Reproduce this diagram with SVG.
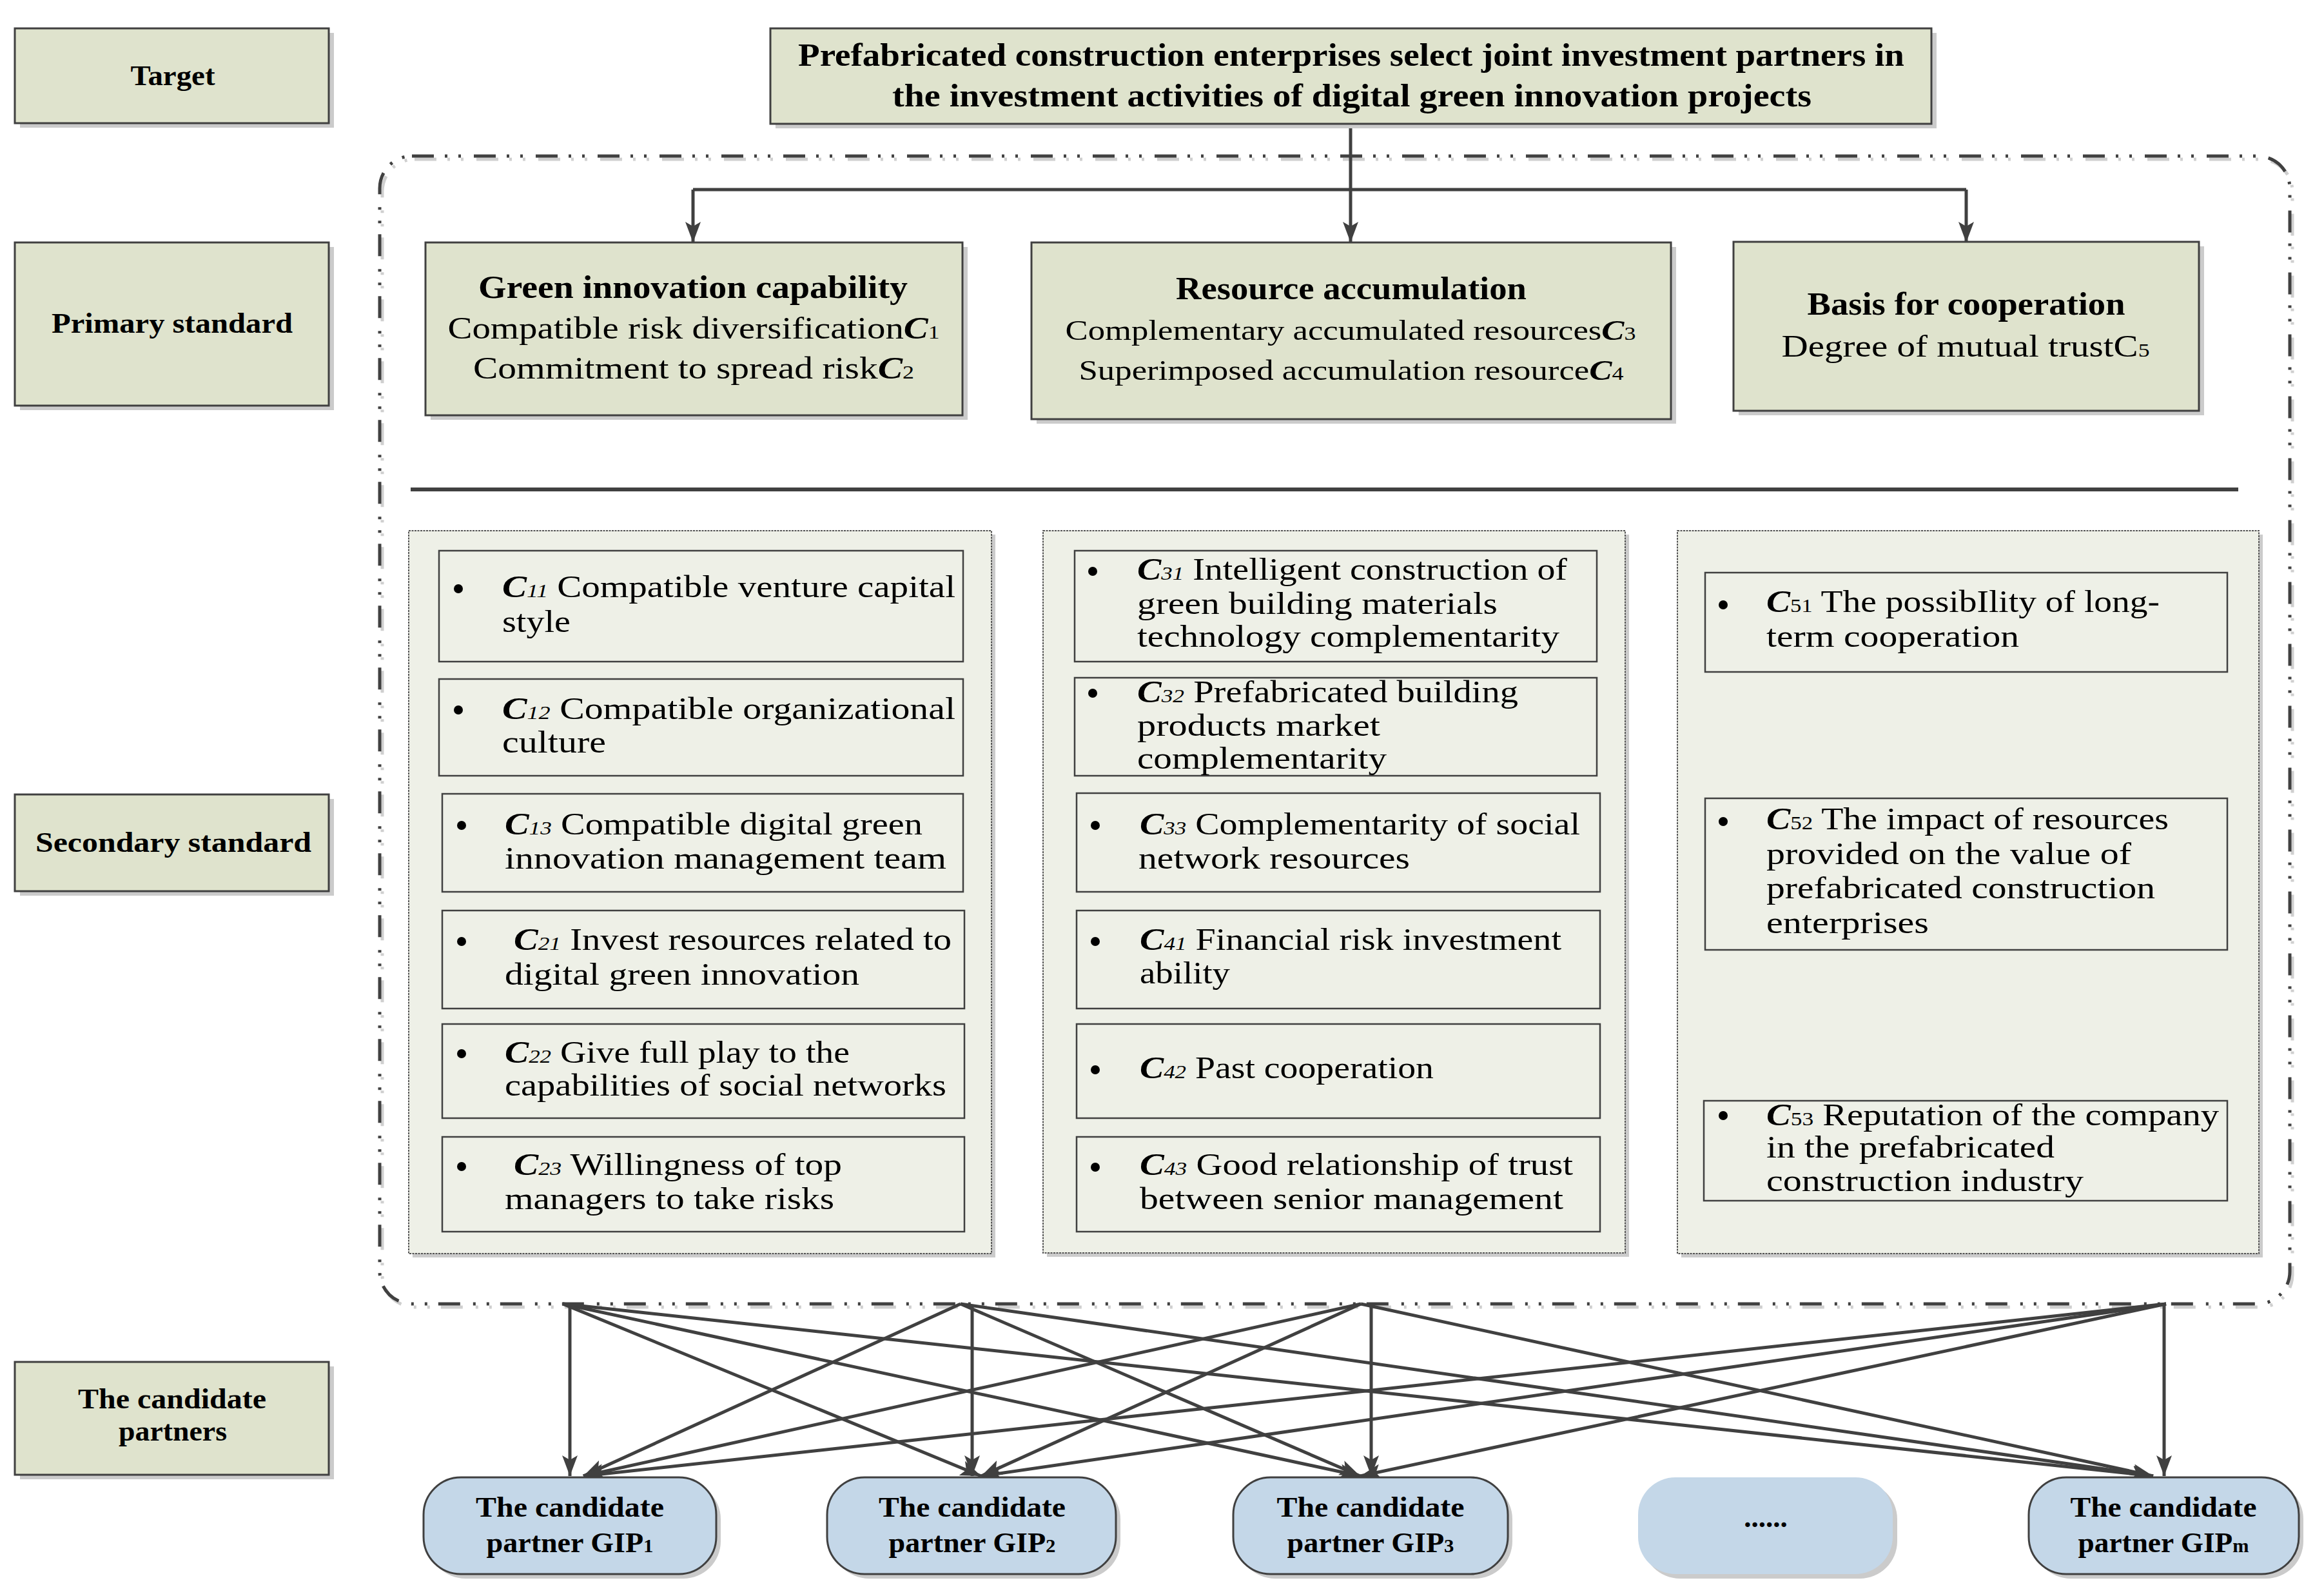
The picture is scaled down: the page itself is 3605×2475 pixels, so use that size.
<svg xmlns="http://www.w3.org/2000/svg" width="3605" height="2475" viewBox="0 0 3605 2475">
<defs>
<style>
.lbl{fill:#dfe3cd;stroke:#404040;stroke-width:3}
.sh{fill:#cbcbcb}
.panel{fill:#eef0e7;stroke:#555;stroke-width:2;stroke-dasharray:3 1.5}
.inner{fill:none;stroke:#404040;stroke-width:2.5}
.node{fill:#c4d7e8;stroke:#404040;stroke-width:3}
.conn{stroke:#404040;fill:none;stroke-width:5}
.bc{stroke:#404040;fill:none;stroke-width:5}
text{font-family:"Liberation Serif",serif;fill:#000}
.b{font-weight:bold}
.m{text-anchor:middle}
.ci{font-style:italic;font-weight:bold}
.s{font-size:30px}
.si{font-size:30px;font-style:italic}
.t45{font-size:45px}
.t50{font-size:50px}
.t48{font-size:48px}
.t44{font-size:44px}
.bul{fill:#000}
</style>
<marker id="ah" viewBox="0 0 32 24" refX="32" refY="12" markerWidth="32" markerHeight="24" markerUnits="userSpaceOnUse" orient="auto">
<path d="M0,0 L32,12 L0,24 L7,12 z" fill="#404040"/>
</marker>
</defs>
<rect width="3605" height="2475" fill="#fff"/>

<!-- dashed container -->
<g id="container">
<rect x="593" y="247" width="2963" height="1780" rx="50" fill="none" stroke="#cfcfcf" stroke-width="5" stroke-dasharray="34 17 4 17 4 20"/>
<rect x="589" y="242" width="2963" height="1780" rx="50" fill="none" stroke="#404040" stroke-width="5" stroke-dasharray="34 17 4 17 4 20"/>
</g>

<!-- left labels -->
<g id="label-target">
<rect class="sh" x="31" y="51" width="487" height="147"/>
<rect class="lbl" x="23" y="44" width="487" height="147"/>
<text class="b m t45" x="268" y="132" textLength="131" lengthAdjust="spacingAndGlyphs">Target</text>
</g>
<g id="label-primary">
<rect class="sh" x="31" y="383" width="487" height="253"/>
<rect class="lbl" x="23" y="376" width="487" height="253"/>
<text class="b m t45" x="267" y="516" textLength="374" lengthAdjust="spacingAndGlyphs">Primary standard</text>
</g>
<g id="label-secondary">
<rect class="sh" x="31" y="1239" width="487" height="150"/>
<rect class="lbl" x="23" y="1232" width="487" height="150"/>
<text class="b m t45" x="269" y="1321" textLength="428" lengthAdjust="spacingAndGlyphs">Secondary standard</text>
</g>
<g id="label-candidates">
<rect class="sh" x="31" y="2119" width="487" height="175"/>
<rect class="lbl" x="23" y="2112" width="487" height="175"/>
<text class="b m t45" x="267" y="2184" textLength="292" lengthAdjust="spacingAndGlyphs">The candidate</text>
<text class="b m t45" x="268" y="2234" textLength="168" lengthAdjust="spacingAndGlyphs">partners</text>
</g>

<!-- connectors -->
<g id="connectors">
<path class="conn" d="M2095,192 L2095,376" marker-end="url(#ah)"/>
<path class="conn" d="M1075,294 L3050,294"/>
<path class="conn" d="M1075,294 L1075,376" marker-end="url(#ah)"/>
<path class="conn" d="M3050,294 L3050,376" marker-end="url(#ah)"/>
<path d="M637,759 L3472,759" stroke="#404040" stroke-width="6"/>
<!-- bottom -->
<path class="bc" d="M884,2024 L884,2289" marker-end="url(#ah)"/>
<path class="bc" d="M873,2022 L1522,2289" marker-end="url(#ah)"/>
<path class="bc" d="M873,2022 L2110,2289" marker-end="url(#ah)"/>
<path class="bc" d="M873,2022 L3340,2289" marker-end="url(#ah)"/>
<path class="bc" d="M1508,2024 L1508,2289" marker-end="url(#ah)"/>
<path class="bc" d="M1490,2022 L905,2289" marker-end="url(#ah)"/>
<path class="bc" d="M1490,2022 L2110,2289" marker-end="url(#ah)"/>
<path class="bc" d="M1490,2022 L3340,2289" marker-end="url(#ah)"/>
<path class="bc" d="M2127,2024 L2127,2289" marker-end="url(#ah)"/>
<path class="bc" d="M2111,2022 L905,2289" marker-end="url(#ah)"/>
<path class="bc" d="M2111,2022 L1522,2289" marker-end="url(#ah)"/>
<path class="bc" d="M2111,2022 L3340,2289" marker-end="url(#ah)"/>
<path class="bc" d="M3357,2024 L3357,2289" marker-end="url(#ah)"/>
<path class="bc" d="M3360,2022 L905,2289" marker-end="url(#ah)"/>
<path class="bc" d="M3360,2022 L1522,2289" marker-end="url(#ah)"/>
<path class="bc" d="M3360,2022 L2110,2289" marker-end="url(#ah)"/>
</g>

<!-- target -->
<g id="target">
<rect class="sh" x="1203" y="51" width="1801" height="148"/>
<rect class="lbl" x="1195" y="44" width="1801" height="148"/>
<text class="b m t50" x="2096" y="102" textLength="1716" lengthAdjust="spacingAndGlyphs">Prefabricated construction enterprises select joint investment partners in</text>
<text class="b m t50" x="2097" y="165" textLength="1426" lengthAdjust="spacingAndGlyphs">the investment activities of digital green innovation projects</text>
</g>

<!-- primary -->
<g id="green-innovation">
<rect class="sh" x="668" y="383" width="833" height="268"/>
<rect class="lbl" x="660" y="376" width="833" height="268"/>
<text class="b m t50" x="1075" y="462" textLength="666" lengthAdjust="spacingAndGlyphs">Green innovation capability</text>
<text class="m t48" x="1076" y="525" textLength="763" lengthAdjust="spacingAndGlyphs">Compatible risk diversification<tspan class="ci">C</tspan><tspan class="s">1</tspan></text>
<text class="m t48" x="1076" y="587" textLength="684" lengthAdjust="spacingAndGlyphs">Commitment to spread risk<tspan class="ci">C</tspan><tspan class="s">2</tspan></text>
</g>
<g id="resource-accumulation">
<rect class="sh" x="1608" y="383" width="992" height="274"/>
<rect class="lbl" x="1600" y="376" width="992" height="274"/>
<text class="b m t50" x="2096" y="464" textLength="544" lengthAdjust="spacingAndGlyphs">Resource accumulation</text>
<text class="m t44" x="2095" y="527" textLength="885" lengthAdjust="spacingAndGlyphs">Complementary accumulated resources<tspan class="ci">C</tspan><tspan class="s">3</tspan></text>
<text class="m t44" x="2096" y="589" textLength="845" lengthAdjust="spacingAndGlyphs">Superimposed accumulation resource<tspan class="ci">C</tspan><tspan class="s">4</tspan></text>
</g>
<g id="basis-cooperation">
<rect class="sh" x="2697" y="382" width="722" height="262"/>
<rect class="lbl" x="2689" y="375" width="722" height="262"/>
<text class="b m t50" x="3050" y="488" textLength="493" lengthAdjust="spacingAndGlyphs">Basis for cooperation</text>
<text class="m t48" x="3049" y="553" textLength="571" lengthAdjust="spacingAndGlyphs">Degree of mutual trust<tspan>C</tspan><tspan class="s">5</tspan></text>
</g>

<!-- secondary panel 1 -->
<g id="panel-1">
<rect class="sh" x="640" y="829" width="904" height="1121"/>
<rect class="panel" x="634" y="823" width="904" height="1121"/>
<rect class="inner" x="681" y="854" width="813" height="172"/>
<rect class="inner" x="681" y="1053" width="813" height="150"/>
<rect class="inner" x="686" y="1231" width="808" height="152"/>
<rect class="inner" x="686" y="1412" width="810" height="152"/>
<rect class="inner" x="686" y="1588" width="810" height="146"/>
<rect class="inner" x="686" y="1763" width="810" height="147"/>
<circle class="bul" cx="711" cy="913" r="7"/>
<circle class="bul" cx="711" cy="1101" r="7"/>
<circle class="bul" cx="716" cy="1280" r="7"/>
<circle class="bul" cx="716" cy="1460" r="7"/>
<circle class="bul" cx="716" cy="1634" r="7"/>
<circle class="bul" cx="716" cy="1809" r="7"/>
<text class="t48" x="779" y="926" textLength="703" lengthAdjust="spacingAndGlyphs"><tspan class="ci">C</tspan><tspan class="si">11</tspan> Compatible venture capital</text>
<text class="t48" x="779" y="980" textLength="106" lengthAdjust="spacingAndGlyphs">style</text>
<text class="t48" x="779" y="1115" textLength="703" lengthAdjust="spacingAndGlyphs"><tspan class="ci">C</tspan><tspan class="si">12</tspan>  Compatible organizational</text>
<text class="t48" x="779" y="1167" textLength="161" lengthAdjust="spacingAndGlyphs">culture</text>
<text class="t48" x="783" y="1294" textLength="648" lengthAdjust="spacingAndGlyphs"><tspan class="ci">C</tspan><tspan class="si">13</tspan> Compatible digital green</text>
<text class="t48" x="783" y="1347" textLength="685" lengthAdjust="spacingAndGlyphs">innovation management team</text>
<text class="t48" x="797" y="1473" textLength="679" lengthAdjust="spacingAndGlyphs"><tspan class="ci">C</tspan><tspan class="si">21</tspan> Invest resources related to</text>
<text class="t48" x="783" y="1527" textLength="550" lengthAdjust="spacingAndGlyphs">digital green innovation</text>
<text class="t48" x="783" y="1648" textLength="535" lengthAdjust="spacingAndGlyphs"><tspan class="ci">C</tspan><tspan class="si">22</tspan> Give full play to the</text>
<text class="t48" x="783" y="1699" textLength="685" lengthAdjust="spacingAndGlyphs">capabilities of social networks</text>
<text class="t48" x="797" y="1822" textLength="509" lengthAdjust="spacingAndGlyphs"><tspan class="ci">C</tspan><tspan class="si">23</tspan>  Willingness of top</text>
<text class="t48" x="783" y="1875" textLength="511" lengthAdjust="spacingAndGlyphs">managers to take risks</text>
</g>

<!-- secondary panel 2 -->
<g id="panel-2">
<rect class="sh" x="1624" y="829" width="903" height="1120"/>
<rect class="panel" x="1618" y="823" width="903" height="1120"/>
<rect class="inner" x="1667" y="854" width="810" height="172"/>
<rect class="inner" x="1667" y="1051" width="810" height="152"/>
<rect class="inner" x="1670" y="1230" width="812" height="153"/>
<rect class="inner" x="1670" y="1412" width="812" height="152"/>
<rect class="inner" x="1670" y="1588" width="812" height="146"/>
<rect class="inner" x="1670" y="1763" width="812" height="147"/>
<circle class="bul" cx="1695" cy="886" r="7"/>
<circle class="bul" cx="1695" cy="1075" r="7"/>
<circle class="bul" cx="1699" cy="1280" r="7"/>
<circle class="bul" cx="1699" cy="1460" r="7"/>
<circle class="bul" cx="1699" cy="1659" r="7"/>
<circle class="bul" cx="1699" cy="1810" r="7"/>
<text class="t48" x="1764" y="899" textLength="667" lengthAdjust="spacingAndGlyphs"><tspan class="ci">C</tspan><tspan class="si">31</tspan> Intelligent construction of</text>
<text class="t48" x="1764" y="952" textLength="559" lengthAdjust="spacingAndGlyphs">green building materials</text>
<text class="t48" x="1764" y="1003" textLength="655" lengthAdjust="spacingAndGlyphs">technology complementarity</text>
<text class="t48" x="1764" y="1089" textLength="591" lengthAdjust="spacingAndGlyphs"><tspan class="ci">C</tspan><tspan class="si">32</tspan> Prefabricated building</text>
<text class="t48" x="1764" y="1141" textLength="377" lengthAdjust="spacingAndGlyphs">products market</text>
<text class="t48" x="1764" y="1192" textLength="387" lengthAdjust="spacingAndGlyphs">complementarity</text>
<text class="t48" x="1768" y="1294" textLength="683" lengthAdjust="spacingAndGlyphs"><tspan class="ci">C</tspan><tspan class="si">33</tspan> Complementarity of social</text>
<text class="t48" x="1766" y="1347" textLength="421" lengthAdjust="spacingAndGlyphs">network resources</text>
<text class="t48" x="1768" y="1473" textLength="654" lengthAdjust="spacingAndGlyphs"><tspan class="ci">C</tspan><tspan class="si">41</tspan> Financial risk investment</text>
<text class="t48" x="1768" y="1525" textLength="140" lengthAdjust="spacingAndGlyphs">ability</text>
<text class="t48" x="1768" y="1672" textLength="456" lengthAdjust="spacingAndGlyphs"><tspan class="ci">C</tspan><tspan class="si">42</tspan> Past cooperation</text>
<text class="t48" x="1768" y="1822" textLength="672" lengthAdjust="spacingAndGlyphs"><tspan class="ci">C</tspan><tspan class="si">43</tspan> Good relationship of trust</text>
<text class="t48" x="1768" y="1875" textLength="657" lengthAdjust="spacingAndGlyphs">between senior management</text>
</g>

<!-- secondary panel 3 -->
<g id="panel-3">
<rect class="sh" x="2608" y="829" width="902" height="1121"/>
<rect class="panel" x="2602" y="823" width="902" height="1121"/>
<rect class="inner" x="2645" y="888" width="810" height="154"/>
<rect class="inner" x="2645" y="1238" width="810" height="235"/>
<rect class="inner" x="2643" y="1707" width="812" height="155"/>
<circle class="bul" cx="2673" cy="938" r="7"/>
<circle class="bul" cx="2673" cy="1274" r="7"/>
<circle class="bul" cx="2673" cy="1730" r="7"/>
<text class="t48" x="2740" y="949" textLength="610" lengthAdjust="spacingAndGlyphs"><tspan class="ci">C</tspan><tspan class="s">51</tspan> The possibIlity of long-</text>
<text class="t48" x="2740" y="1003" textLength="392" lengthAdjust="spacingAndGlyphs">term cooperation</text>
<text class="t48" x="2740" y="1286" textLength="624" lengthAdjust="spacingAndGlyphs"><tspan class="ci">C</tspan><tspan class="s">52</tspan> The impact of resources</text>
<text class="t48" x="2740" y="1340" textLength="566" lengthAdjust="spacingAndGlyphs">provided on the value of</text>
<text class="t48" x="2740" y="1393" textLength="603" lengthAdjust="spacingAndGlyphs">prefabricated construction</text>
<text class="t48" x="2740" y="1447" textLength="252" lengthAdjust="spacingAndGlyphs">enterprises</text>
<text class="t48" x="2740" y="1745" textLength="702" lengthAdjust="spacingAndGlyphs"><tspan class="ci">C</tspan><tspan class="s">53</tspan> Reputation of the company</text>
<text class="t48" x="2740" y="1795" textLength="447" lengthAdjust="spacingAndGlyphs">in the prefabricated</text>
<text class="t48" x="2740" y="1847" textLength="492" lengthAdjust="spacingAndGlyphs">construction industry</text>
</g>

<!-- candidate partners -->
<g id="gip1">
<rect class="sh" x="664" y="2298" width="454" height="150" rx="58" ry="58"/>
<rect class="node" x="657" y="2291" width="454" height="150" rx="58" ry="58"/>
<text class="b m t45" x="884" y="2352" textLength="292" lengthAdjust="spacingAndGlyphs">The candidate</text>
<text class="b m t45" x="884" y="2407" textLength="259" lengthAdjust="spacingAndGlyphs">partner GIP<tspan class="s">1</tspan></text>
</g>
<g id="gip2">
<rect class="sh" x="1290" y="2298" width="448" height="150" rx="58" ry="58"/>
<rect class="node" x="1283" y="2291" width="448" height="150" rx="58" ry="58"/>
<text class="b m t45" x="1508" y="2352" textLength="290" lengthAdjust="spacingAndGlyphs">The candidate</text>
<text class="b m t45" x="1508" y="2407" textLength="259" lengthAdjust="spacingAndGlyphs">partner GIP<tspan class="s">2</tspan></text>
</g>
<g id="gip3">
<rect class="sh" x="1920" y="2298" width="426" height="150" rx="58" ry="58"/>
<rect class="node" x="1913" y="2291" width="426" height="150" rx="58" ry="58"/>
<text class="b m t45" x="2126" y="2352" textLength="291" lengthAdjust="spacingAndGlyphs">The candidate</text>
<text class="b m t45" x="2126" y="2407" textLength="259" lengthAdjust="spacingAndGlyphs">partner GIP<tspan class="s">3</tspan></text>
</g>
<g id="gip-more">
<rect class="sh" x="2548" y="2298" width="395" height="150" rx="58" ry="58"/>
<rect x="2541" y="2291" width="395" height="150" rx="58" ry="58" fill="#c4d7e8"/>
<text class="b m t45" x="2739" y="2368">......</text>
</g>
<g id="gipm">
<rect class="sh" x="3154" y="2298" width="419" height="150" rx="58" ry="58"/>
<rect class="node" x="3147" y="2291" width="419" height="150" rx="58" ry="58"/>
<text class="b m t45" x="3356" y="2352" textLength="289" lengthAdjust="spacingAndGlyphs">The candidate</text>
<text class="b m t45" x="3356" y="2407" textLength="265" lengthAdjust="spacingAndGlyphs">partner GIP<tspan class="s">m</tspan></text>
</g>
</svg>
